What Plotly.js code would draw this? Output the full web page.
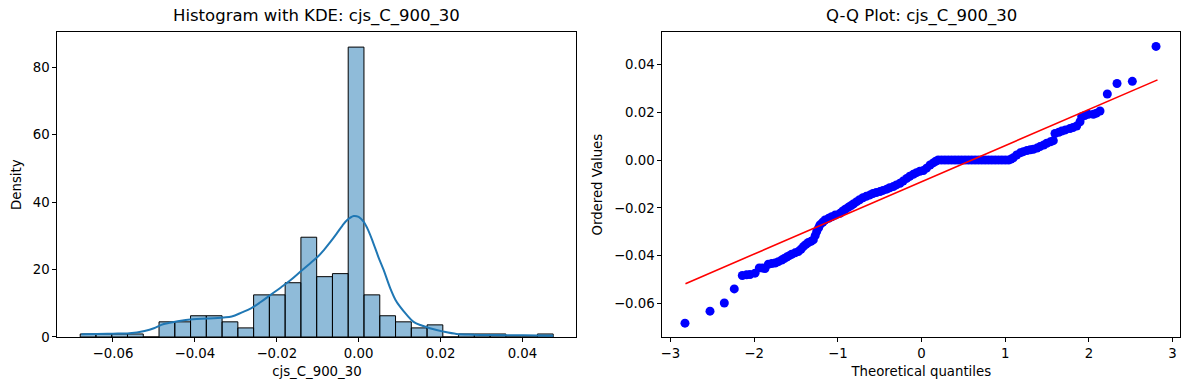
<!DOCTYPE html>
<html>
<head>
<meta charset="utf-8">
<script src="https://cdn.plot.ly/plotly-3.0.1.min.js"></script>
<style>html,body{margin:0;padding:0;background:#fff;}#chart{width:1189px;height:390px;}</style>
</head>
<body>
<div id="chart"></div>
<script>
// ---- Histogram (density) : bin centers and densities ----
const binCenters = [-0.06608,-0.06223,-0.05838,-0.05453,-0.05068,-0.04683,-0.04298,-0.03913,-0.03528,-0.03143,
                    -0.02758,-0.02373,-0.01988,-0.01603,-0.01218,-0.00833,-0.00448,-0.00063,0.00323,0.00708,
                    0.01093,0.01478,0.01863,0.02248,0.02633,0.03018,0.03403,0.03788,0.04173,0.04558];
const binDensity = [0.9,0.9,0.9,0.9,0,4.5,4.5,6.3,6.3,4.5,
                    2.7,12.5,12.5,16.1,29.6,17.9,18.8,86.0,12.5,6.3,
                    4.5,2.7,3.6,0,0.9,0.9,0.9,0,0,0.9];
const binWidth = 0.00385;

// ---- KDE curve ----
const kdeX = [-0.0677,-0.064,-0.060,-0.056,-0.0523,-0.050,-0.0482,-0.0462,-0.0442,-0.0405,-0.0369,-0.033,-0.031,
              -0.0285,-0.0263,-0.024,-0.0215,-0.019,-0.0166,-0.0142,-0.0118,-0.010,-0.0085,-0.0069,-0.0053,-0.004,
              -0.0028,-0.0012,0.0,0.0012,0.0024,0.0036,0.0048,0.0061,0.0077,0.009,0.0101,0.0118,0.0134,0.0154,
              0.0174,0.0207,0.0239,0.028,0.032,0.036,0.0401,0.044,0.0475];
const kdeY = [0.8,0.9,1.0,1.1,1.8,2.6,3.6,4.2,4.7,5.3,5.5,5.8,6.1,
              7.3,8.5,10.3,12.5,14.7,16.9,19.4,21.9,23.8,25.8,28.2,30.8,33.0,
              34.7,35.9,35.6,34.2,31.5,27.8,23.8,19.9,14.5,11.0,9.0,6.5,4.5,3.4,
              2.6,1.6,0.9,0.7,0.6,0.55,0.5,0.45,0.4];

// ---- Q-Q plot points ----
const qqTheoretical = [-2.826,-2.527,-2.356,-2.237,-2.141,-2.09,-2.049,-1.989,-1.938,-1.90,-1.870,-1.830,-1.79,-1.750,
  -1.71,-1.670,-1.64,-1.611,-1.58,-1.551,-1.51,-1.472,-1.44,-1.412,-1.38,-1.352,-1.32,-1.293,-1.27,-1.252,-1.23,-1.213,
  -1.18,-1.153,-1.11,-1.073,-1.03,-0.974,-0.94,-0.91,-0.875,-0.84,-0.81,-0.774,-0.74,-0.70,-0.66,-0.615,-0.58,-0.54,
  -0.496,-0.46,-0.416,-0.38,-0.337,-0.30,-0.257,-0.22,-0.177,-0.14,-0.098,-0.06,-0.02,0.022,0.06,0.102,0.14,0.17,0.20,
  0.24,0.28,0.32,0.36,0.40,0.44,0.48,0.52,0.56,0.60,0.64,0.68,0.72,0.76,0.80,0.84,0.88,0.92,0.96,1.00,1.04,
  1.07,1.097,1.137,1.18,1.217,1.26,1.30,1.336,1.38,1.416,1.46,1.496,1.54,1.575,1.595,1.64,1.675,1.72,1.774,1.81,1.854,
  1.894,1.914,1.95,1.993,2.053,2.09,2.133,2.220,2.336,2.519,2.802];
const qqOrdered = [-0.0682,-0.0632,-0.0598,-0.0539,-0.0483,-0.0480,-0.0479,-0.0473,-0.0451,-0.0452,-0.0454,-0.0436,-0.0433,-0.0431,
  -0.0425,-0.0418,-0.0412,-0.0406,-0.0400,-0.0394,-0.0388,-0.0383,-0.0373,-0.0362,-0.0353,-0.0345,-0.0340,-0.0334,-0.0316,-0.0299,-0.0284,-0.0271,
  -0.0260,-0.0251,-0.0244,-0.0237,-0.0230,-0.0223,-0.0213,-0.0206,-0.0198,-0.0190,-0.0183,-0.0174,-0.0166,-0.0158,-0.0152,-0.0146,-0.0140,-0.0136,
  -0.0132,-0.0127,-0.0122,-0.0116,-0.0111,-0.0104,-0.0097,-0.0088,-0.0077,-0.0068,-0.0060,-0.0053,-0.0047,-0.0044,-0.0034,-0.0021,-0.0012,-0.0005,0.0,
  0.0,0.0,0.0,0.0,0.0,0.0,0.0,0.0,0.0,0.0,0.0,0.0,0.0,0.0,0.0,0.0,0.0,0.0,0.0,0.0,0.0,
  0.0004,0.0009,0.0021,0.0030,0.0035,0.0040,0.0043,0.0045,0.0050,0.0056,0.0063,0.0070,0.0076,0.0081,0.0111,0.0116,0.0121,0.0126,0.0132,0.0136,0.0142,
  0.0160,0.0181,0.0186,0.0191,0.0191,0.0196,0.0205,0.0276,0.0320,0.0329,0.0475];

// fitted reference line end points
const fitX = [-2.82, 2.82];
const fitY = [-0.0517, 0.0335];

const FONT = 'DejaVu Sans';
const tickFont = {family: FONT, size: 13.3, color: '#000'};
const axisBase = {
  showline: true, mirror: true, linecolor: '#000', linewidth: 1,
  ticks: 'outside', ticklen: 4, tickwidth: 1, tickcolor: '#000',
  showgrid: false, zeroline: false, tickfont: tickFont
};

const traces = [
  {type: 'bar', x: binCenters, y: binDensity, width: binWidth, xaxis: 'x', yaxis: 'y',
   marker: {color: 'rgba(31,119,180,0.5)', line: {color: '#000', width: 1}}, showlegend: false, hoverinfo: 'x+y'},
  {type: 'scatter', mode: 'lines', x: kdeX, y: kdeY, xaxis: 'x', yaxis: 'y',
   line: {color: '#1f77b4', width: 2, shape: 'spline', smoothing: 1}, showlegend: false},
  {type: 'scatter', mode: 'markers', x: qqTheoretical, y: qqOrdered, xaxis: 'x2', yaxis: 'y2',
   marker: {color: '#0000ff', size: 9}, showlegend: false},
  {type: 'scatter', mode: 'lines', x: fitX, y: fitY, xaxis: 'x2', yaxis: 'y2',
   line: {color: '#ff0000', width: 1.6}, showlegend: false}
];

const layout = {
  width: 1189, height: 390,
  margin: {l: 0, r: 0, t: 0, b: 0},
  paper_bgcolor: '#fff', plot_bgcolor: '#fff',
  font: {family: FONT, color: '#000'},
  showlegend: false,
  xaxis: Object.assign({}, axisBase, {domain: [0.04819, 0.48486], range: [-0.0736, 0.0532],
    tickvals: [-0.06, -0.04, -0.02, 0, 0.02, 0.04], tickformat: '.2f',
    title: {text: 'cjs_C_900_30', font: {family: FONT, size: 13.3}, standoff: 6}, anchor: 'y'}),
  yaxis: Object.assign({}, axisBase, {domain: [0.1359, 0.91718], range: [0, 90.39],
    tickvals: [0, 20, 40, 60, 80],
    title: {text: 'Density', font: {family: FONT, size: 13.3}, standoff: 8}, anchor: 'x'}),
  xaxis2: Object.assign({}, axisBase, {domain: [0.55702, 0.99268], range: [-3.097, 3.092],
    tickvals: [-3, -2, -1, 0, 1, 2, 3],
    title: {text: 'Theoretical quantiles', font: {family: FONT, size: 13.3}, standoff: 6}, anchor: 'y2'}),
  yaxis2: Object.assign({}, axisBase, {domain: [0.1359, 0.91718], range: [-0.0740, 0.0534],
    tickvals: [-0.06, -0.04, -0.02, 0, 0.02, 0.04], tickformat: '.2f',
    title: {text: 'Ordered Values', font: {family: FONT, size: 13.3}, standoff: 8}, anchor: 'x2'}),
  annotations: [
    {text: 'Histogram with KDE: cjs_C_900_30', xref: 'paper', yref: 'paper', x: (0.04819 + 0.48486) / 2, y: 0.959,
     xanchor: 'center', yanchor: 'middle', showarrow: false, font: {family: FONT, size: 16.5, color: '#000'}},
    {text: 'Q-Q Plot: cjs_C_900_30', xref: 'paper', yref: 'paper', x: (0.55702 + 0.99268) / 2, y: 0.959,
     xanchor: 'center', yanchor: 'middle', showarrow: false, font: {family: FONT, size: 16.5, color: '#000'}}
  ]
};

Plotly.newPlot('chart', traces, layout, {displayModeBar: false, staticPlot: true});
</script>
</body>
</html>
